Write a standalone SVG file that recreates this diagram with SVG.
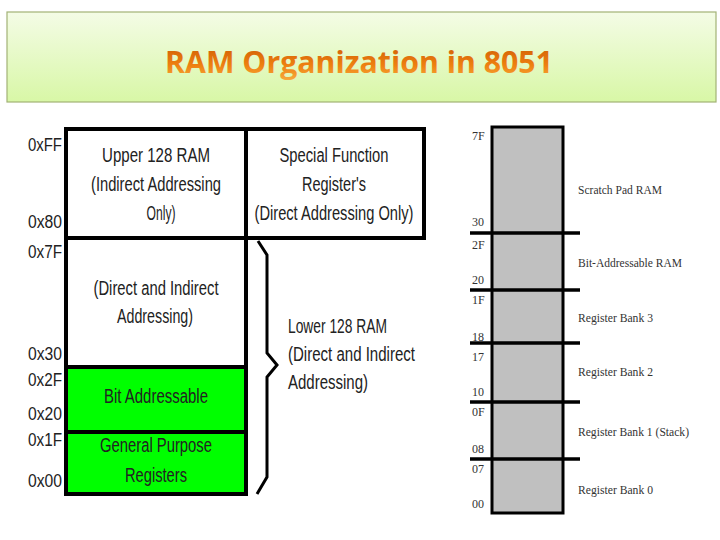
<svg xmlns="http://www.w3.org/2000/svg" width="720" height="540" viewBox="0 0 720 540">
<defs>
<linearGradient id="bg" x1="0" y1="0" x2="0" y2="1">
<stop offset="0" stop-color="#f4fce6"/>
<stop offset="1" stop-color="#d8f7a6"/>
</linearGradient>
<linearGradient id="tg" x1="0" y1="0" x2="0" y2="1">
<stop offset="0" stop-color="#c85500"/>
<stop offset="0.6" stop-color="#ee8010"/>
<stop offset="1" stop-color="#f8b040"/>
</linearGradient>
<style>
.a{font-family:"Liberation Sans",Arial,sans-serif;font-size:18px;fill:#222}
.b{font-family:"Liberation Sans",Arial,sans-serif;font-size:20px;fill:#222;text-anchor:middle}
.l{font-family:"Liberation Sans",Arial,sans-serif;font-size:20px;fill:#222}
.s{font-family:"Liberation Serif","Times New Roman",serif;font-size:12px;fill:#333}
.r{font-family:"Liberation Serif","Times New Roman",serif;font-size:12px;fill:#333}
.k{stroke:#000;stroke-width:4}
.w{fill:#fff}
.g{fill:#00ff00}
.h{stroke:#000;stroke-width:3.5}
</style>
</defs>
<rect width="720" height="540" fill="#fff"/>
<g id="title">
<rect x="7" y="12" width="709" height="90" fill="url(#bg)" stroke="#a2b276" stroke-width="1.2"/>
<text x="359" y="73" font-family="'Open Sans','Noto Sans',sans-serif" font-weight="bold" font-size="31" fill="url(#tg)" text-anchor="middle" textLength="388" lengthAdjust="spacingAndGlyphs">RAM Organization in 8051</text>
</g>
<g id="upper128">
<rect x="66" y="129" width="180" height="109" class="k w"/>
<text class="b" x="156" y="162" textLength="108" lengthAdjust="spacingAndGlyphs">Upper 128 RAM</text>
<text class="b" x="156" y="191" textLength="130" lengthAdjust="spacingAndGlyphs">(Indirect Addressing</text>
<text class="b" x="161" y="220" textLength="29" lengthAdjust="spacingAndGlyphs">Only)</text>
</g>
<g id="sfr">
<rect x="246" y="129" width="178" height="109" class="k w"/>
<text class="b" x="334" y="162" textLength="109" lengthAdjust="spacingAndGlyphs">Special Function</text>
<text class="b" x="334" y="191" textLength="64" lengthAdjust="spacingAndGlyphs">Register's</text>
<text class="b" x="334" y="220" textLength="159" lengthAdjust="spacingAndGlyphs">(Direct Addressing Only)</text>
</g>
<g id="lower">
<rect x="66" y="238" width="180" height="129" class="k w"/>
<line x1="246" y1="238" x2="424" y2="238" class="h"/>
<text class="b" x="156" y="295" textLength="125" lengthAdjust="spacingAndGlyphs">(Direct and Indirect</text>
<text class="b" x="155" y="323" textLength="76" lengthAdjust="spacingAndGlyphs">Addressing)</text>
</g>
<g id="bitaddr">
<rect x="66" y="367" width="180" height="65" class="k g"/>
<text class="b" x="156" y="403" textLength="104" lengthAdjust="spacingAndGlyphs">Bit Addressable</text>
</g>
<g id="gpr">
<rect x="66" y="432" width="180" height="62" class="k g"/>
<text class="b" x="156" y="452" textLength="112" lengthAdjust="spacingAndGlyphs">General Purpose</text>
<text class="b" x="156" y="482" textLength="62" lengthAdjust="spacingAndGlyphs">Registers</text>
</g>
<g id="addresses">
<text class="a" x="28" y="151" textLength="34" lengthAdjust="spacingAndGlyphs">0xFF</text>
<text class="a" x="28" y="228" textLength="34" lengthAdjust="spacingAndGlyphs">0x80</text>
<text class="a" x="28" y="258" textLength="34" lengthAdjust="spacingAndGlyphs">0x7F</text>
<text class="a" x="28" y="360" textLength="34" lengthAdjust="spacingAndGlyphs">0x30</text>
<text class="a" x="28" y="386" textLength="34" lengthAdjust="spacingAndGlyphs">0x2F</text>
<text class="a" x="28" y="420" textLength="34" lengthAdjust="spacingAndGlyphs">0x20</text>
<text class="a" x="28" y="446" textLength="34" lengthAdjust="spacingAndGlyphs">0x1F</text>
<text class="a" x="28" y="487" textLength="34" lengthAdjust="spacingAndGlyphs">0x00</text>
</g>
<g id="brace">
<polyline points="258,241 267,255 267,353 277,365 267,377 267,477 257,494" fill="none" stroke="#000" stroke-width="3"/>
<text class="l" x="288" y="333" textLength="99" lengthAdjust="spacingAndGlyphs">Lower 128 RAM</text>
<text class="l" x="288" y="361" textLength="127" lengthAdjust="spacingAndGlyphs">(Direct and Indirect</text>
<text class="l" x="288" y="389" textLength="80" lengthAdjust="spacingAndGlyphs">Addressing)</text>
</g>
<g id="map">
<rect x="492" y="127" width="71" height="386" fill="#c0c0c0" stroke="#000" stroke-width="3"/>
<g class="h">
<line x1="470" y1="233" x2="580" y2="233"/>
<line x1="470" y1="290" x2="580" y2="290"/>
<line x1="470" y1="343" x2="580" y2="343"/>
<line x1="470" y1="402" x2="580" y2="402"/>
<line x1="470" y1="459" x2="580" y2="459"/>
</g>
<text class="s" x="472" y="140">7F</text>
<text class="s" x="472" y="226">30</text>
<text class="s" x="472" y="249">2F</text>
<text class="s" x="472" y="284">20</text>
<text class="s" x="472" y="304">1F</text>
<text class="s" x="472" y="341">18</text>
<text class="s" x="472" y="361">17</text>
<text class="s" x="472" y="396">10</text>
<text class="s" x="472" y="416">0F</text>
<text class="s" x="472" y="453">08</text>
<text class="s" x="472" y="473">07</text>
<text class="s" x="472" y="508">00</text>
<text class="r" x="578" y="194" textLength="84" lengthAdjust="spacingAndGlyphs">Scratch Pad RAM</text>
<text class="r" x="578" y="267" textLength="104" lengthAdjust="spacingAndGlyphs">Bit-Addressable RAM</text>
<text class="r" x="578" y="322" textLength="75" lengthAdjust="spacingAndGlyphs">Register Bank 3</text>
<text class="r" x="578" y="376" textLength="75" lengthAdjust="spacingAndGlyphs">Register Bank 2</text>
<text class="r" x="578" y="436" textLength="111" lengthAdjust="spacingAndGlyphs">Register Bank 1 (Stack)</text>
<text class="r" x="578" y="494" textLength="75" lengthAdjust="spacingAndGlyphs">Register Bank 0</text>
</g>
</svg>
